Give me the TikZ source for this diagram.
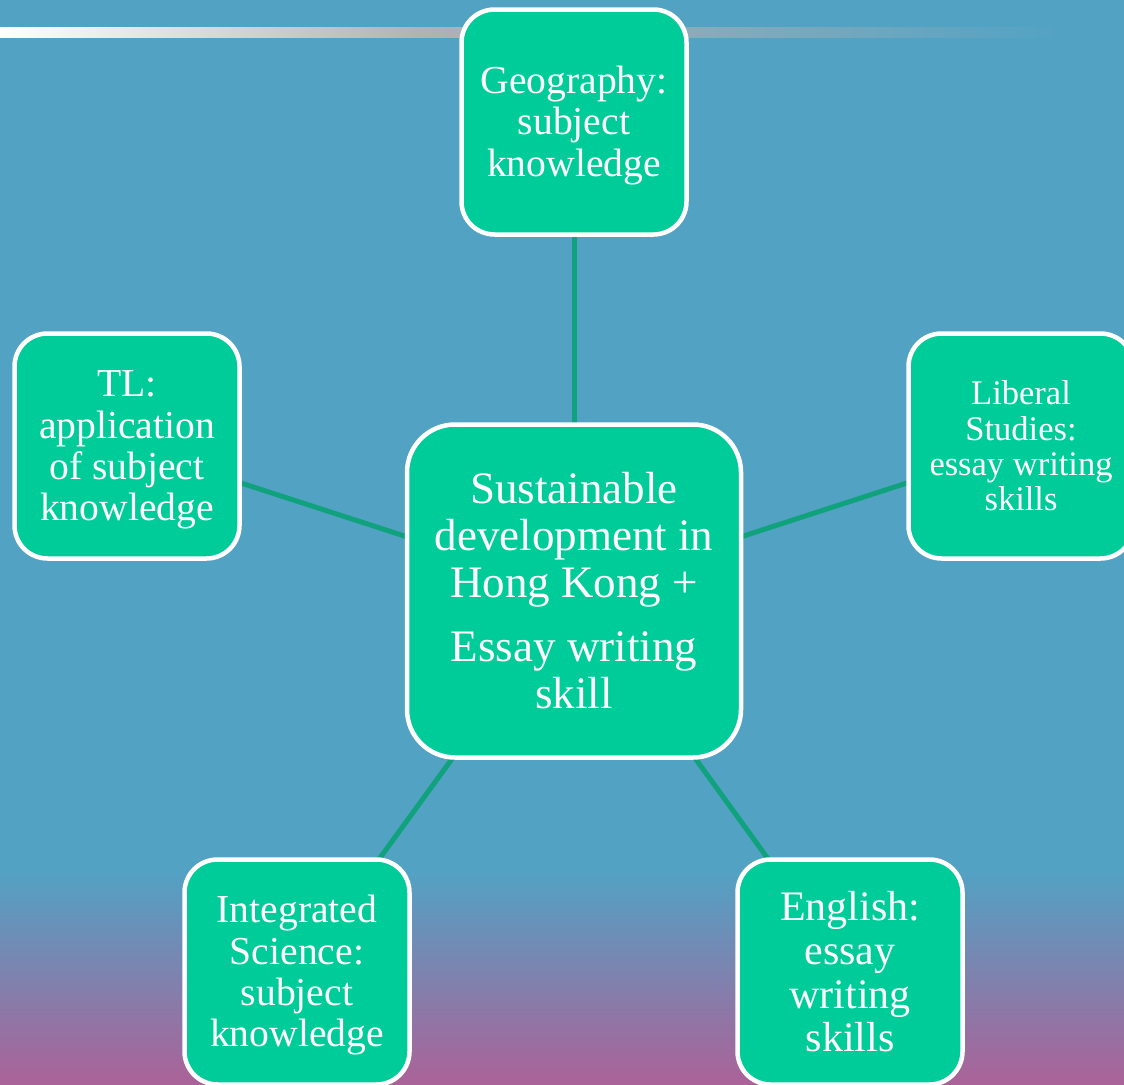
\documentclass[tikz,border=0pt]{standalone}
\usepackage{fontspec}
\setmainfont{Liberation Serif}
\definecolor{bgblue}{HTML}{52A2C4}
\definecolor{bgpink}{HTML}{AB6298}
\definecolor{boxgreen}{HTML}{00CC99}
\definecolor{linegreen}{HTML}{10A27D}
\definecolor{bargray}{HTML}{B2B2B2}
\newcommand\topstrut{\rule{0pt}{34pt}}
\pgfdeclarelayer{bglayer}
\pgfdeclarelayer{linelayer}
\pgfsetlayers{bglayer,linelayer,main}
\tikzset{
  topic/.style={draw=white, line width=4.5pt, fill=boxgreen, text=white,
    rounded corners=33pt, align=center, inner sep=0pt,
    minimum width=225pt, minimum height=225pt},
  hub/.style={topic, rounded corners=48pt, minimum width=334pt, minimum height=333pt,
    font=\fontsize{45}{47}\selectfont},
  f40/.style={font=\fontsize{39.6}{41.3}\selectfont},
  f42/.style={font=\fontsize{42}{43.7}\selectfont},
  f34/.style={font=\fontsize{34.5}{35.4}\selectfont},
  link/.style={draw=linegreen, line width=5pt}
}
\begin{document}
\begin{tikzpicture}[x=1pt,y=-1pt]
\useasboundingbox (0,0) rectangle (1124,1084);
\begin{pgfonlayer}{bglayer}
\fill[bgblue] (0,0) rectangle (1124,1084);
\fill[top color=bgblue, bottom color=bgpink] (0,870) rectangle (1124,1084);
\fill[left color=white, right color=bargray] (0,27) rectangle (420,37);
\fill[left color=bargray, right color=bgblue] (420,27) rectangle (1060,37);
\end{pgfonlayer}
\clip (0,0) rectangle (1124,1084);
\node[hub] (ctr) at (574,591) {Sustainable\\development in\\Hong Kong +\\[17pt]Essay writing\\skill};
\node[topic,f40] (geo) at (574,122) {\topstrut Geography:\\subject\\knowledge};
\node[topic,f40] (tl) at (127,446) {\topstrut TL:\\application\\of subject\\knowledge};
\node[topic,f34] (ls) at (1021,446) {Liberal\\Studies:\\essay writing\\skills};
\node[topic,f40] (is) at (297,972) {\topstrut Integrated\\Science:\\subject\\knowledge};
\node[topic,f42] (en) at (850,972) {English:\\essay\\writing\\skills};
\begin{pgfonlayer}{linelayer}
\draw[link] (ctr.center) -- (geo.center);
\draw[link] (ctr.center) -- (tl.center);
\draw[link] (ctr.center) -- (ls.center);
\draw[link] (ctr.center) -- (is.center);
\draw[link] (ctr.center) -- (en.center);
\end{pgfonlayer}
\end{tikzpicture}
\end{document}
